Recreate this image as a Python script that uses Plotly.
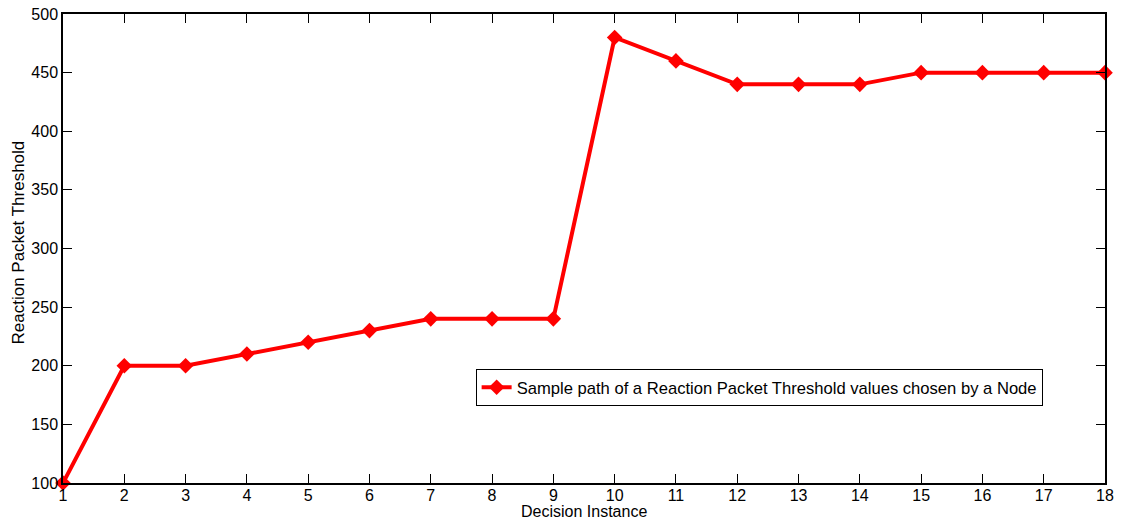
import plotly.graph_objects as go

# Decision instances and the reaction packet threshold chosen at each
decision_instance = list(range(1, 19))
threshold = [100, 200, 200, 210, 220, 230, 240, 240, 240,
             480, 460, 440, 440, 440, 450, 450, 450, 450]
x_ticks = list(range(1, 19))
y_ticks = [100, 150, 200, 250, 300, 350, 400, 450, 500]

FONT = "Liberation Sans, Arial, Helvetica, sans-serif"

fig = go.Figure()
fig.add_trace(go.Scatter(
    x=decision_instance,
    y=threshold,
    mode="lines+markers",
    name="Sample path of a Reaction Packet Threshold values chosen by a Node",
    line=dict(color="#ff0000", width=4),
    marker=dict(symbol="diamond", size=12, color="#ff0000"),
    cliponaxis=False,
))

axis_common = dict(
    showgrid=False,
    zeroline=False,
    showline=True,
    linecolor="black",
    linewidth=1.5,
    mirror="ticks",
    ticks="inside",
    ticklen=9,
    tickwidth=1,
    tickcolor="black",
    automargin=False,
    tickfont=dict(family=FONT, size=16, color="black"),
)

fig.update_xaxes(range=[1, 18], tickvals=x_ticks, ticklabelstandoff=-3, **axis_common)
fig.update_yaxes(range=[100, 500], tickvals=y_ticks, **axis_common)

# Axis titles
fig.add_annotation(
    text="Decision Instance", xref="paper", yref="paper",
    x=0.5, y=-29 / 469, xanchor="center", yanchor="middle",
    showarrow=False,
    font=dict(family=FONT, size=16, color="black"),
)
fig.add_annotation(
    text="Reaction Packet Threshold", xref="paper", yref="paper",
    x=0, y=0.5, xanchor="center", yanchor="middle", xshift=-45, yshift=6,
    textangle=-90, showarrow=False,
    font=dict(family=FONT, size=17, color="black"),
)

fig.update_layout(
    width=1125,
    height=521,
    margin=dict(l=63, r=20, t=14, b=38, autoexpand=False),
    plot_bgcolor="white",
    paper_bgcolor="white",
    showlegend=True,
    legend=dict(
        x=0.396, y=0.243, xanchor="left", yanchor="top",
        bgcolor="white",
        bordercolor="black",
        borderwidth=1,
        font=dict(family=FONT, size=16.6, color="black"),
        itemwidth=30,
        tracegroupgap=0,
    ),
)

fig.write_html("out.html")
